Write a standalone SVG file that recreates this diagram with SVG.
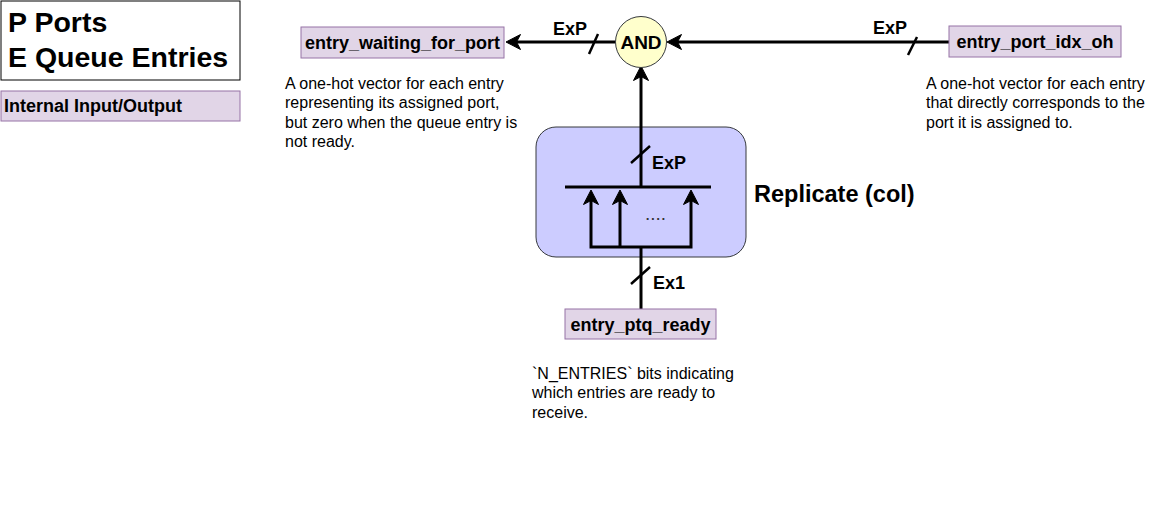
<svg xmlns="http://www.w3.org/2000/svg" width="1166" height="510" viewBox="0 0 1166 510">
<style>
  .lbl { fill:#e1d5e7; stroke:#9673a6; stroke-width:1; }
  .lt { font-family:"Liberation Sans", Arial, sans-serif; font-weight:bold; font-size:18px; fill:#000; }
  .desc { font-family:"Liberation Sans", Arial, sans-serif; font-size:16px; fill:#000; }
  .w { fill:none; stroke:#000; stroke-width:3; }
  .sl { fill:none; stroke:#000; stroke-width:2.5; }
</style>
<defs>
  <marker id="arr" viewBox="0 0 16 16" refX="5" refY="8" markerWidth="16" markerHeight="16" markerUnits="userSpaceOnUse" orient="auto-start-reverse">
    <path d="M0.5,0.5 L15,8 L0.5,15.5 L4.5,8 Z" fill="#000" stroke="#000" stroke-width="1"/>
  </marker>
</defs>
<rect width="1166" height="510" fill="#fff"/>

<g id="title">
  <rect x="1" y="1" width="239" height="79" fill="#fff" stroke="#000" stroke-width="1"/>
  <text x="8" y="32" style="font-family:'Liberation Sans', Arial, sans-serif; font-weight:bold; font-size:28.5px;">P Ports</text>
  <text x="8" y="67" style="font-family:'Liberation Sans', Arial, sans-serif; font-weight:bold; font-size:28.5px;">E Queue Entries</text>
</g>

<g id="legend">
  <rect class="lbl" x="1" y="91" width="239" height="30"/>
  <text class="lt" x="4" y="112">Internal Input/Output</text>
</g>

<g id="replicate">
  <rect x="536" y="127" width="210" height="130" rx="20" ry="20" fill="#ccccff" stroke="#36393d" stroke-width="1"/>
  <text x="754" y="202" style="font-family:'Liberation Sans', Arial, sans-serif; font-weight:bold; font-size:23.5px;">Replicate (col)</text>
  <text x="645" y="220" style="font-family:'Liberation Sans', Arial, sans-serif; font-size:19px; fill:#333;">....</text>
</g>

<g id="connectors">
  <path class="w" d="M615,42 H516" marker-end="url(#arr)"/>
  <path class="w" d="M949,42 H677" marker-end="url(#arr)"/>
  <path class="w" d="M641,187 V76" marker-end="url(#arr)"/>
  <path class="w" d="M565,187 H711"/>
  <path class="w" d="M591,200 V247 H691 V200" marker-start="url(#arr)" marker-end="url(#arr)"/>
  <path class="w" d="M620,247 V200" marker-end="url(#arr)"/>
  <path class="w" d="M641,309 V247"/>
  <line class="sl" x1="589" y1="54" x2="598" y2="34"/>
  <line class="sl" x1="908" y1="55" x2="917" y2="37"/>
  <line class="sl" x1="631" y1="163" x2="650" y2="146"/>
  <line class="sl" x1="631" y1="284" x2="650" y2="267"/>
  <text class="lt" x="553" y="35">ExP</text>
  <text class="lt" x="873" y="34">ExP</text>
  <text class="lt" x="652" y="169">ExP</text>
  <text class="lt" x="653" y="289">Ex1</text>
</g>

<g id="and">
  <circle cx="641" cy="42" r="25.5" fill="#ffffcc" stroke="#36393d" stroke-width="1"/>
  <text x="641" y="49" text-anchor="middle" style="font-family:'Liberation Sans', Arial, sans-serif; font-weight:bold; font-size:19px;">AND</text>
</g>

<g id="entry_waiting_for_port">
  <rect class="lbl" x="301" y="27" width="203" height="31"/>
  <text class="lt" x="402.5" y="48.5" text-anchor="middle">entry_waiting_for_port</text>
  <text class="desc" x="285" y="88.5">A one-hot vector for each entry</text>
  <text class="desc" x="285" y="108">representing its assigned port,</text>
  <text class="desc" x="285" y="127.5">but zero when the queue entry is</text>
  <text class="desc" x="285" y="147">not ready.</text>
</g>

<g id="entry_port_idx_oh">
  <rect class="lbl" x="949" y="26" width="172" height="31"/>
  <text class="lt" x="1035" y="47.5" text-anchor="middle">entry_port_idx_oh</text>
  <text class="desc" x="926" y="88.5">A one-hot vector for each entry</text>
  <text class="desc" x="926" y="108">that directly corresponds to the</text>
  <text class="desc" x="926" y="127.5">port it is assigned to.</text>
</g>

<g id="entry_ptq_ready">
  <rect class="lbl" x="565" y="309" width="151" height="30"/>
  <text class="lt" x="640.5" y="330.5" text-anchor="middle">entry_ptq_ready</text>
  <text class="desc" x="532" y="378.5">`N_ENTRIES` bits indicating</text>
  <text class="desc" x="532" y="398">which entries are ready to</text>
  <text class="desc" x="532" y="417.5">receive.</text>
</g>
</svg>
